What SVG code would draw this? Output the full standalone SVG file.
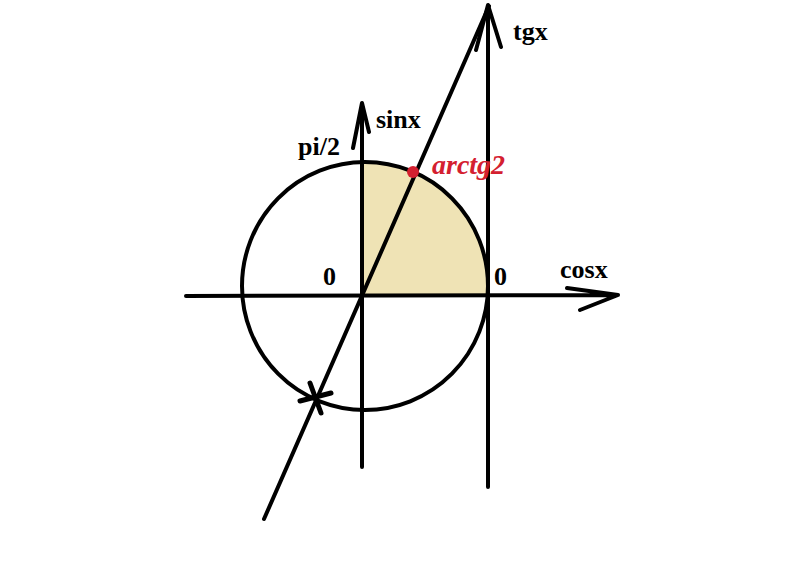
<svg xmlns="http://www.w3.org/2000/svg" width="800" height="565" viewBox="0 0 800 565">
<style>
.ln{stroke:#000;stroke-width:4;fill:none;stroke-linecap:round;stroke-linejoin:round}
.t{font-family:"Liberation Serif",serif;font-weight:bold;font-size:26px;fill:#000}
.r{font-family:"Liberation Serif",serif;font-weight:bold;font-style:italic;font-size:28px;fill:#D42030}
</style>
<rect width="800" height="565" fill="#fff"/>
<g id="sector">
<path d="M362,296 L362,162 A124,124 0 0 1 488,288 L488,296 Z" fill="#EFE3B5"/>
</g>
<g id="circle">
<ellipse cx="365" cy="286" rx="123" ry="124" class="ln"/>
</g>
<g id="connectors">
<path class="ln" d="M186,296 L618,295 M567,288 L618,295 L580,310"/>
<path class="ln" d="M362,467 L362,103 M353,148 L362,103 L369,132"/>
<path class="ln" d="M488,487 L488,5 M476,50 L488,5 L501,47"/>
<path class="ln" d="M264,519 L489,6"/>
<path class="ln" d="M310,383 L321,413 M300,401 L331,393" style="stroke-width:5"/>
</g>
<g id="point">
<circle cx="413" cy="172" r="6" fill="#D42030"/>
</g>
<g id="labels">
<text class="t" x="513" y="40">tgx</text>
<text class="t" x="376" y="128">sinx</text>
<text class="t" x="298" y="155">pi/2</text>
<text class="r" x="432" y="174">arctg2</text>
<text class="t" x="323" y="285">0</text>
<text class="t" x="494" y="285">0</text>
<text class="t" x="560" y="278">cosx</text>
</g>
</svg>
